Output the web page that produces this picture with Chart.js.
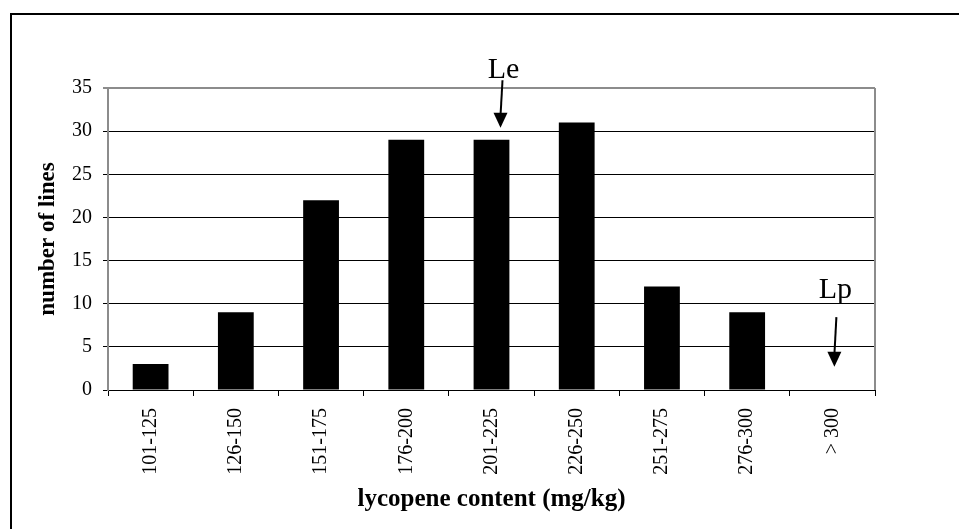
<!DOCTYPE html>
<html>
<head>
<meta charset="utf-8">
<script src="https://cdn.jsdelivr.net/npm/chart.js@4.4.1/dist/chart.umd.min.js"></script>
<style>
  html, body { margin: 0; padding: 0; background: #ffffff; }
  canvas { display: block; }
</style>
</head>
<body>
<canvas id="lycoChart" width="959" height="529"></canvas>
<script>
// ===============================
// data
// ===============================

const ranges = ["101-125", "126-150", "151-175", "176-200", "201-225", "226-250", "251-275", "276-300", "> 300"];
const lineCounts = [3, 9, 22, 29, 29, 31, 12, 9, 0];
const yTicks = [0, 5, 10, 15, 20, 25, 30, 35];

// arrow labels (category index, text)
const markLabels = ["Le", "Lp"];
const markIndex = [4, 8];

const serif = "'Liberation Serif', 'Times New Roman', serif";

// ===============================
// page frame + arrows
// ===============================

const framePlugin = {
    id: "frame",
    beforeDraw(chart) {
        const ctx = chart.ctx;
        ctx.save();
        ctx.fillStyle = "#ffffff";
        ctx.fillRect(0, 0, chart.width, chart.height);
        ctx.restore();
    },
    afterDraw(chart) {
        const ctx = chart.ctx;
        const a = chart.chartArea;
        ctx.save();
        // outer box (top + left edge only visible)
        ctx.strokeStyle = "#000000";
        ctx.lineWidth = 2;
        ctx.beginPath();
        ctx.moveTo(11, chart.height);
        ctx.lineTo(11, 14);
        ctx.lineTo(chart.width, 14);
        ctx.stroke();
        // right side of plot area
        ctx.strokeStyle = "#8c8c8c";
        ctx.lineWidth = 2;
        ctx.beginPath();
        ctx.moveTo(a.right, a.top);
        ctx.lineTo(a.right, a.bottom);
        ctx.stroke();
        ctx.restore();
    },
    afterDatasetsDraw(chart) {
        const ctx = chart.ctx;
        const xs = chart.scales.x;
        const ys = chart.scales.y;
        // text baseline / arrow start / arrow tip, in y units; dx in px
        const spots = [
            { text: 36.15, from: 35.9, to: 30.4, dx: 9, tdx: 12 },
            { text: 10.65, from: 8.45, to: 2.7, dx: 2, tdx: 3 }
        ];
        ctx.save();
        markLabels.forEach((lbl, i) => {
            const s = spots[i];
            const cx = xs.getPixelForValue(markIndex[i]);
            ctx.font = "30px " + serif;
            ctx.fillStyle = "#000000";
            ctx.textAlign = "center";
            ctx.textBaseline = "alphabetic";
            ctx.fillText(lbl, cx + s.tdx, ys.getPixelForValue(s.text));

            const x1 = cx + s.dx + 2, y1 = ys.getPixelForValue(s.from);
            const x2 = cx + s.dx, y2 = ys.getPixelForValue(s.to);
            ctx.strokeStyle = "#000000";
            ctx.lineWidth = 2;
            ctx.beginPath();
            ctx.moveTo(x1, y1);
            ctx.lineTo(x2, y2 - 12);
            ctx.stroke();
            ctx.beginPath();
            ctx.moveTo(x2, y2);
            ctx.lineTo(x2 - 7, y2 - 15);
            ctx.lineTo(x2 + 7, y2 - 15);
            ctx.closePath();
            ctx.fill();
        });
        ctx.restore();
    }
};

// ===============================
// chart
// ===============================

const lycoCtx = document.getElementById("lycoChart");

new Chart(lycoCtx, {

    type: "bar",

    data: {
        labels: ranges,
        datasets: [{
            label: "number of lines",
            data: lineCounts,
            backgroundColor: "#000000",
            borderWidth: 0,
            barPercentage: 1,
            categoryPercentage: 0.42
        }]
    },

    options: {
        responsive: false,
        animation: false,
        layout: {
            padding: { top: 88, right: 84, left: 0, bottom: 0 }
        },
        plugins: {
            legend: { display: false },
            tooltip: { enabled: false }
        },
        scales: {
            x: {
                afterFit: (s) => { s.height = 139; },
                grid: {
                    drawOnChartArea: false,
                    drawTicks: true,
                    tickLength: 6,
                    color: "#000000",
                    lineWidth: 1
                },
                border: { color: "#000000", width: 1 },
                ticks: {
                    autoSkip: false,
                    minRotation: 90,
                    maxRotation: 90,
                    padding: 12,
                    color: "#000000",
                    font: { family: serif, size: 20 }
                },
                title: {
                    display: true,
                    text: "lycopene content (mg/kg)",
                    color: "#000000",
                    padding: { top: 0, bottom: 14 },
                    font: { family: serif, size: 25, weight: "bold", lineHeight: 1.2 }
                }
            },
            y: {
                min: 0,
                max: 35,
                afterFit: (s) => { s.width = 108; },
                afterBuildTicks: (s) => { s.ticks = yTicks.map(v => ({ value: v })); },
                grid: {
                    color: (c) => c.tick && c.tick.value === 35 ? "#8c8c8c" : "#000000",
                    lineWidth: (c) => c.tick && c.tick.value === 35 ? 2 : 1,
                    tickLength: 5
                },
                border: { color: "#8c8c8c", width: 2 },
                ticks: {
                    padding: 11,
                    color: "#000000",
                    font: { family: serif, size: 20 }
                },
                title: {
                    display: true,
                    text: "number of lines",
                    color: "#000000",
                    padding: { top: 34, bottom: 0 },
                    font: { family: serif, size: 23, weight: "bold", lineHeight: 1.2 }
                }
            }
        }
    },

    plugins: [framePlugin]

});
</script>
</body>
</html>
